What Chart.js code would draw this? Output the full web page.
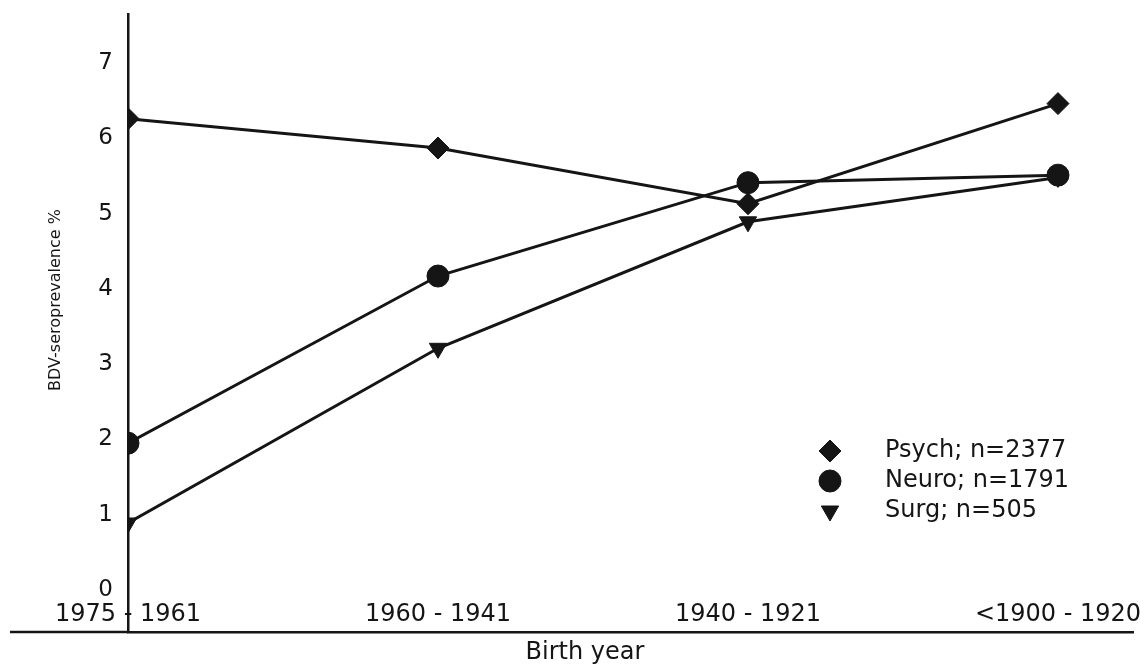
<!DOCTYPE html>
<html>
<head>
<meta charset="utf-8">
<title>BDV seroprevalence by birth year</title>
<script src="https://cdn.jsdelivr.net/npm/chart.js@4.4.1/dist/chart.umd.min.js"></script>
<style>
  html, body { margin: 0; padding: 0; background: #fff; }
  #wrap { width: 1145px; height: 665px; position: relative; }
</style>
</head>
<body>
<div id="wrap"><canvas id="myChart"></canvas></div>
<script>
// Chart data
const birthGroups = ["1975 - 1961", "1960 - 1941", "1940 - 1921", "<1900 - 1920"];
const psychValues = [6.26, 5.87, 5.13, 6.46];
const neuroValues = [1.95, 4.17, 5.41, 5.51];
const surgValues = [0.89, 3.21, 4.89, 5.48];
const seriesLabels = ["Psych; n=2377", "Neuro; n=1791", "Surg; n=505"];
const yTicks = [0, 1, 2, 3, 4, 5, 6, 7];
const yTitle = "BDV-seroprevalence %";
const xTitle = "Birth year";

const INK = "#151515";
const FONT = "'DejaVu Sans', 'Liberation Sans', sans-serif";

// builds one black line series with the given marker
const makeSeries = (label, values, pointStyle, radius, rotation) => ({
  label,
  data: values.map((v, i) => ({ x: i, y: v })),
  borderColor: INK,
  backgroundColor: INK,
  borderWidth: 3,
  pointStyle,
  pointRadius: radius,
  pointRotation: rotation,
  pointBackgroundColor: INK,
  pointBorderColor: INK,
  pointBorderWidth: 1,
  tension: 0,
  fill: false,
});

/**
 * Draws the bits the scanned figure places freely:
 * axis titles, the inside legend and the x axis running left of the y axis
 */
const figureExtras = {
  id: "figureExtras",
  afterDraw(chart) {
    const { ctx, chartArea } = chart;
    ctx.save();

    // x axis line continues to the left of the y axis
    ctx.strokeStyle = INK;
    ctx.lineWidth = 2.5;
    ctx.beginPath();
    ctx.moveTo(10, chartArea.bottom);
    ctx.lineTo(chartArea.left, chartArea.bottom);
    ctx.stroke();

    ctx.fillStyle = INK;

    // y axis title
    ctx.save();
    ctx.font = `16px ${FONT}`;
    ctx.textAlign = "center";
    ctx.textBaseline = "middle";
    ctx.translate(56, 300);
    ctx.rotate(-Math.PI / 2);
    ctx.fillText(yTitle, 0, 0);
    ctx.restore();

    // x axis title
    ctx.font = `24px ${FONT}`;
    ctx.textAlign = "center";
    ctx.textBaseline = "middle";
    ctx.fillText(xTitle, 585, 653);

    // legend
    ctx.textAlign = "left";
    chart.data.datasets.forEach((ds, i) => {
      const y = 451 + i * 30;
      ctx.fillStyle = INK;
      ctx.strokeStyle = INK;
      ctx.lineWidth = 1;
      Chart.helpers.drawPoint(ctx, {
        pointStyle: ds.pointStyle,
        radius: ds.pointRadius,
        rotation: ds.pointRotation,
        borderWidth: 1,
      }, 830, y);
      ctx.fillText(ds.label, 885, y);
    });

    ctx.restore();
  },
};

new Chart("myChart", {
  type: "line",
  data: {
    datasets: [
      makeSeries(seriesLabels[0], psychValues, "rectRot", 11, 0),
      makeSeries(seriesLabels[1], neuroValues, "circle", 11, 0),
      makeSeries(seriesLabels[2], surgValues, "triangle", 10, 180),
    ],
  },
  options: {
    responsive: true,
    maintainAspectRatio: false,
    animation: false,
    layout: { padding: { top: 0, right: 12, bottom: 0, left: 0 } },
    plugins: {
      legend: { display: false },
      tooltip: { enabled: false },
    },
    scales: {
      x: {
        type: "linear",
        min: 0,
        max: 3.242,
        afterBuildTicks: axis => {
          axis.ticks = birthGroups.map((_, i) => ({ value: i }));
        },
        afterFit: axis => {
          axis.height = 33;
        },
        grid: { display: false, drawTicks: false },
        border: { display: true, color: INK, width: 2.5 },
        ticks: {
          mirror: true,
          padding: 3,
          color: INK,
          autoSkip: false,
          maxRotation: 0,
          font: { family: FONT, size: 24 },
          callback: value => birthGroups[value] ?? "",
        },
      },
      y: {
        min: -0.558,
        max: 7.653,
        afterBuildTicks: axis => {
          axis.ticks = yTicks.map(v => ({ value: v }));
        },
        afterFit: axis => {
          axis.width = 128;
        },
        grid: { display: false, drawTicks: true, tickLength: 15 },
        border: { display: true, color: INK, width: 2.5 },
        ticks: {
          padding: 0,
          color: INK,
          font: { family: FONT, size: 23 },
        },
      },
    },
  },
  plugins: [figureExtras],
});
</script>
</body>
</html>
